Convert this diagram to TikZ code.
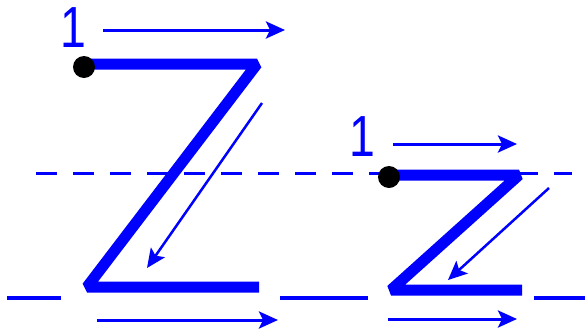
\documentclass[tikz,border=0pt]{standalone}
\usepackage{fontspec}
\setmainfont{Liberation Sans}
\usetikzlibrary{arrows.meta}
\tikzset{stroke/.style={blue,line width=11pt,line join=bevel},
  guide/.style={blue,line width=3pt,-{Stealth[length=19pt,width=17pt,inset=4pt]}},
  numlabel/.style={blue,inner sep=0,anchor=base,font=\fontsize{58}{60}\selectfont}}

\begin{document}
\begin{tikzpicture}[x=1pt,y=-1pt]
\useasboundingbox (0,0) rectangle (585,335);
% writing lines
\draw [blue,line width=3pt,dash pattern=on 21pt off 16pt] (36,173) -- (572,173);
\draw [blue,line width=3.5pt] (7,298) -- (61,298);
\draw [blue,line width=3.5pt] (280,298) -- (368,298);
\draw [blue,line width=3.5pt] (534,298) -- (585,298);
% big Z
\coordinate (Zstart) at (84,64);
\coordinate (Ztr) at (257,64);
\coordinate (Zbl) at (87,287);
\coordinate (Zbr) at (259,287);
\draw [stroke] (Zstart) -- (Ztr) -- (Zbl) -- (Zbr);
\fill (84,67) circle (11pt);
\node [numlabel] (Zone) at (73.6,47) {\scalebox{0.8}[1]{1}};
\coordinate (Za1) at (103,30);
\coordinate (Za2) at (285,30);
\coordinate (Zb1) at (262,103);
\coordinate (Zb2) at (147,268);
\coordinate (Zc1) at (97,320);
\coordinate (Zc2) at (278,320);
\draw [guide] (Za1) -- (Za2);
\draw [guide,line width=2.5pt] (Zb1) -- (Zb2);
\draw [guide] (Zc1) -- (Zc2);
% small z
\coordinate (zstart) at (389,175);
\coordinate (ztr) at (519,175);
\coordinate (zbl) at (391,290);
\coordinate (zbr) at (522,290);
\draw [stroke] (zstart) -- (ztr) -- (zbl) -- (zbr);
\fill (389,177) circle (11pt);
\node [numlabel] (zone) at (362,156) {\scalebox{0.8}[1]{1}};
\coordinate (za1) at (393,144);
\coordinate (za2) at (517,144);
\coordinate (zb1) at (549,188);
\coordinate (zb2) at (448,280);
\coordinate (zc1) at (388,319);
\coordinate (zc2) at (517,319);
\draw [guide] (za1) -- (za2);
\draw [guide,line width=2.5pt] (zb1) -- (zb2);
\draw [guide] (zc1) -- (zc2);
\end{tikzpicture}
\end{document}
